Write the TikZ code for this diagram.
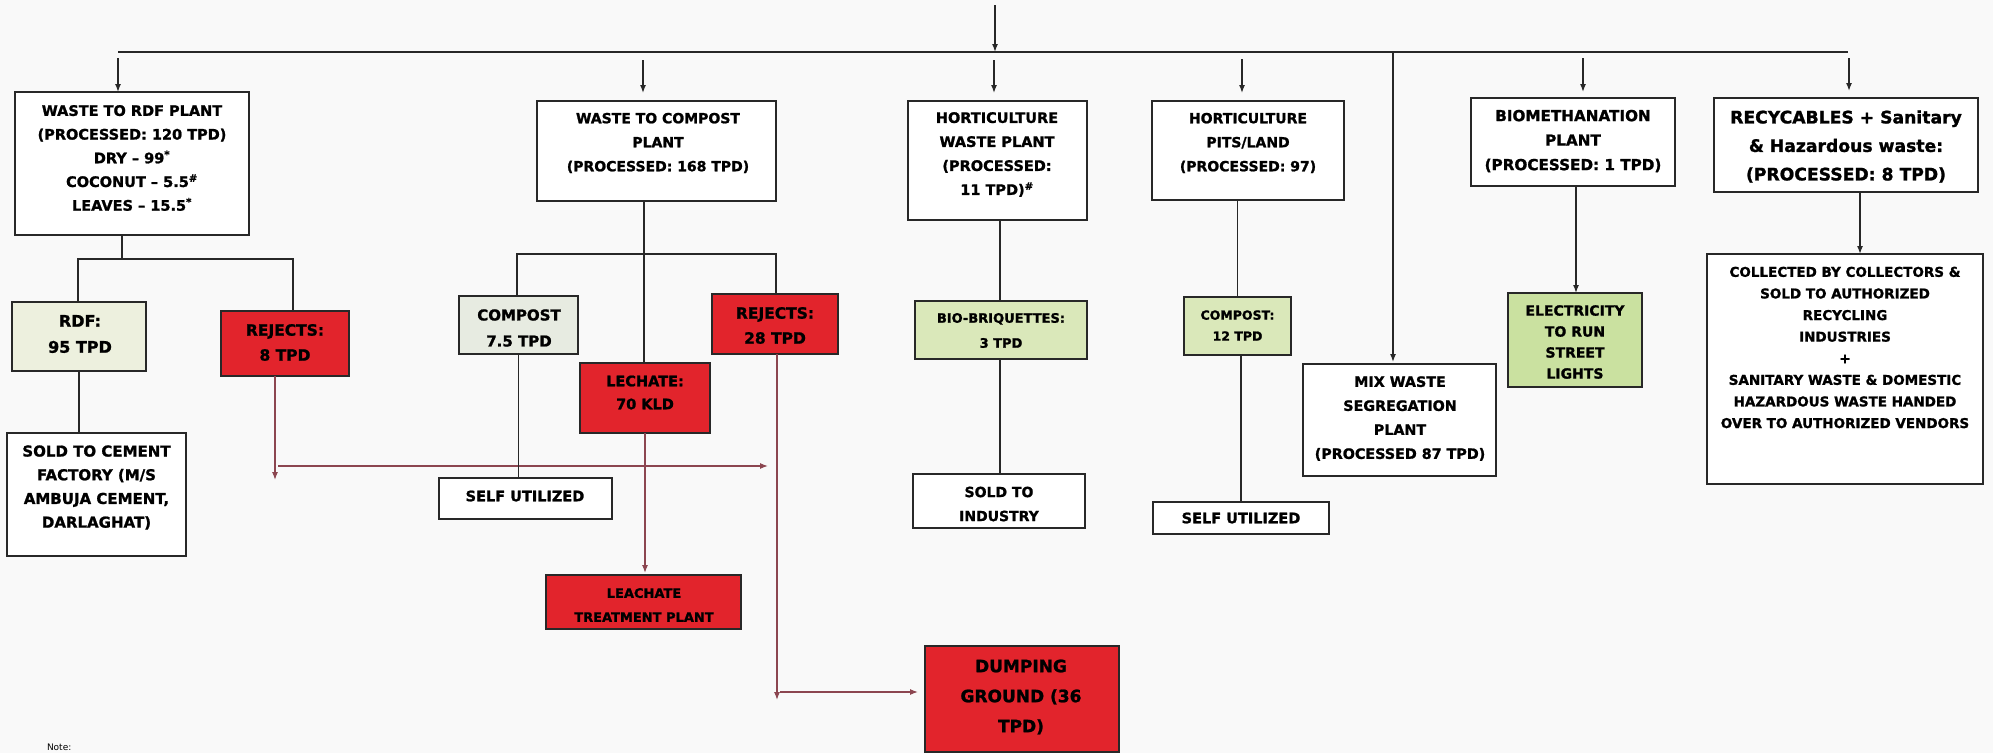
\documentclass[tikz,border=0pt]{standalone}
\usepackage{fontspec}
\setmainfont{DejaVu Sans}[BoldFeatures={FakeBold=1.3}]
\usetikzlibrary{arrows.meta,calc}
\definecolor{bgc}{RGB}{249,249,249}
\definecolor{redbox}{RGB}{226,36,44}
\definecolor{palec}{RGB}{237,240,222}
\definecolor{greyc}{RGB}{231,235,225}
\definecolor{lgreen}{RGB}{218,232,186}
\definecolor{mgreen}{RGB}{202,225,160}
\definecolor{lnc}{RGB}{40,40,40}
\definecolor{rlc}{RGB}{140,70,80}
\newcommand\myfs[2]{\fontsize{#1}{#2}\selectfont\bfseries}
\begin{document}
\begin{tikzpicture}[x=1pt,y=-1pt,
  box/.style={draw=lnc,line width=1.4pt,inner sep=0pt,outer sep=0pt,fill=white},
  redb/.style={box,fill=redbox},
  paleb/.style={box,fill=palec},
  greyb/.style={box,fill=greyc},
  greenb/.style={box,fill=lgreen},
  green2b/.style={box,fill=mgreen},
  txt/.style={inner sep=0pt,outer sep=0pt,align=center,text=black},
  ln/.style={draw=lnc,line width=1.4pt},
  rln/.style={draw=rlc,line width=1.2pt},
  arr/.style={ln,-{Latex[length=8pt,width=6pt]}},
  rarr/.style={rln,-{Latex[length=8pt,width=6pt]}}]
\fill[bgc] (0,0) rectangle (1993,753);
\useasboundingbox (0,0) rectangle (1993,753);

% ---------- boxes ----------
\node[box,minimum width=234pt,minimum height=143pt] (b1) at (132,163.5) {};
\node[txt,font=\myfs{14.5}{23.7}] (b1t) at (132,158) {WASTE TO RDF PLANT\\(PROCESSED: 120 TPD)\\DRY – 99\textsuperscript{*}\\COCONUT – 5.5\textsuperscript{\#}\\LEAVES – 15.5\textsuperscript{*}};

\node[paleb,minimum width=134pt,minimum height=69pt] (rdf) at (79,336.5) {};
\node[txt,font=\myfs{16}{26}] (rdft) at (80,334) {RDF:\\95 TPD};

\node[redb,minimum width=128pt,minimum height=65pt] (rej1) at (285,343.5) {};
\node[txt,font=\myfs{15.5}{25}] (rej1t) at (285,342.5) {REJECTS:\\8 TPD};

\node[box,minimum width=179pt,minimum height=123pt] (cement) at (96.5,494.5) {};
\node[txt,font=\myfs{15}{23.7}] (cementt) at (96.5,487.5) {SOLD TO CEMENT\\FACTORY (M/S\\AMBUJA CEMENT,\\DARLAGHAT)};

\node[box,minimum width=239pt,minimum height=100pt] (b2) at (656.5,151) {};
\node[txt,font=\myfs{14}{24}] (b2t) at (658,143) {WASTE TO COMPOST\\PLANT\\(PROCESSED: 168 TPD)};

\node[greyb,minimum width=119pt,minimum height=58pt] (comp1) at (518.5,325) {};
\node[txt,font=\myfs{15}{26}] (comp1t) at (519,328) {COMPOST\\7.5 TPD};

\node[redb,minimum width=130pt,minimum height=70pt] (lech) at (645,398) {};
\node[txt,font=\myfs{14.5}{23}] (lecht) at (645,392.5) {LECHATE:\\70 KLD};

\node[redb,minimum width=126pt,minimum height=60pt] (rej2) at (775,324) {};
\node[txt,font=\myfs{15.5}{25}] (rej2t) at (775,325.5) {REJECTS:\\28 TPD};

\node[box,minimum width=173pt,minimum height=41pt] (self1) at (525.5,498.5) {};
\node[txt,font=\myfs{14.5}{18}] (self1t) at (525,496) {SELF UTILIZED};

\node[redb,minimum width=195pt,minimum height=54pt] (ltp) at (643.5,602) {};
\node[txt,font=\myfs{13}{24}] (ltpt) at (644,605) {LEACHATE\\TREATMENT PLANT};

\node[redb,minimum width=194pt,minimum height=106pt] (dump) at (1022,699) {};
\node[txt,font=\myfs{17}{30}] (dumpt) at (1021,697) {DUMPING\\GROUND (36\\TPD)};

\node[box,minimum width=179pt,minimum height=119pt] (b3) at (997.5,160.5) {};
\node[txt,font=\myfs{14.5}{24}] (b3t) at (997,154.5) {HORTICULTURE\\WASTE PLANT\\(PROCESSED:\\11 TPD)\textsuperscript{\#}};

\node[greenb,minimum width=172pt,minimum height=58pt] (bio) at (1001,330) {};
\node[txt,font=\myfs{13}{25}] (biot) at (1001,330.5) {BIO-BRIQUETTES:\\3 TPD};

\node[box,minimum width=172pt,minimum height=54pt] (sold2) at (999,501) {};
\node[txt,font=\myfs{14}{24}] (sold2t) at (999,504) {SOLD TO\\INDUSTRY};

\node[box,minimum width=192pt,minimum height=99pt] (b4) at (1248,150.5) {};
\node[txt,font=\myfs{14}{24}] (b4t) at (1248,143) {HORTICULTURE\\PITS/LAND\\(PROCESSED: 97)};

\node[greenb,minimum width=107pt,minimum height=58pt] (comp2) at (1237.5,326) {};
\node[txt,font=\myfs{12.5}{21}] (comp2t) at (1237.5,325.5) {COMPOST:\\12 TPD};

\node[box,minimum width=176pt,minimum height=32pt] (self2) at (1241,518) {};
\node[txt,font=\myfs{14.5}{18}] (self2t) at (1241,518) {SELF UTILIZED};

\node[box,minimum width=193pt,minimum height=112pt] (mix) at (1399.5,420) {};
\node[txt,font=\myfs{14.3}{24}] (mixt) at (1400,418.5) {MIX WASTE\\SEGREGATION\\PLANT\\(PROCESSED 87 TPD)};

\node[box,minimum width=204pt,minimum height=88pt] (b5) at (1573,142) {};
\node[txt,font=\myfs{15.2}{24.5}] (b5t) at (1573,141) {BIOMETHANATION\\PLANT\\(PROCESSED: 1 TPD)};

\node[green2b,minimum width=134pt,minimum height=94pt] (elec) at (1575,340) {};
\node[txt,font=\myfs{14}{21}] (elect) at (1575,342) {ELECTRICITY\\TO RUN\\STREET\\LIGHTS};

\node[box,minimum width=264pt,minimum height=94pt] (b6) at (1846,145) {};
\node[txt,font=\myfs{17.2}{28.5}] (b6t) at (1846,146.5) {RECYCABLES + Sanitary\\\& Hazardous waste:\\(PROCESSED: 8 TPD)};

\node[box,minimum width=276pt,minimum height=230pt] (coll) at (1845,369) {};
\node[txt,font=\myfs{13.5}{21.6}] (collt) at (1845,347.5) {COLLECTED BY COLLECTORS \&\\SOLD TO AUTHORIZED\\RECYCLING\\INDUSTRIES\\+\\SANITARY WASTE \& DOMESTIC\\HAZARDOUS WASTE HANDED\\OVER TO AUTHORIZED VENDORS};

\node[txt,anchor=south west,font=\fontsize{9}{10}\selectfont] (note) at (47,751) {Note:};

% ---------- top bus ----------
\coordinate (topin) at (995,5);
\coordinate (busL) at (118,52);
\coordinate (busR) at (1848,52);
\draw[arr] (topin) -- (topin |- busL);
\draw[ln] (busL) -- (busR);

\coordinate (a1) at (118,58);
\coordinate (a2) at (643,60);
\coordinate (a3) at (994,60);
\coordinate (a4) at (1242,59);
\coordinate (a5) at (1583,58);
\coordinate (a6) at (1849,58);
\draw[arr] (a1) -- (a1 |- b1.north);
\draw[arr,shorten >=8pt] (a2) -- (a2 |- b2.north);
\draw[arr,shorten >=8pt] (a3) -- (a3 |- b3.north);
\draw[arr,shorten >=8pt] (a4) -- (a4 |- b4.north);
\draw[arr,shorten >=6pt] (a5) -- (a5 |- b5.north);
\draw[arr,shorten >=7pt] (a6) -- (a6 |- b6.north);

\coordinate (mx) at (1393,52);
\draw[arr,shorten >=2pt] (mx) -- (mx |- mix.north);

% ---------- RDF branch ----------
\coordinate (j1) at (122,259);
\coordinate (j1L) at (78,259);
\coordinate (j1R) at (293,259);
\draw[ln] (j1 |- b1.south) -- (j1);
\draw[ln] (j1L |- rdf.north) -- (j1L) -- (j1R) -- (j1R |- rej1.north);
\draw[ln] (rdf.south) -- (rdf.south |- cement.north);
\coordinate (r1end) at (275,480);
\draw[rarr] (r1end |- rej1.south) -- (r1end);
\coordinate (h1s) at (278,466);
\coordinate (h1e) at (768,466);
\draw[rarr] (h1s) -- (h1e);

% ---------- compost branch ----------
\coordinate (j2) at (644,254);
\coordinate (j2L) at (517,254);
\coordinate (j2R) at (776,254);
\draw[ln] (j2 |- b2.south) -- (j2 |- lech.north);
\draw[ln] (j2L |- comp1.north) -- (j2L) -- (j2R) -- (j2R |- rej2.north);
\draw[ln] (comp1.south) -- (comp1.south |- self1.north);
\draw[rarr,shorten >=2pt] (lech.south) -- (lech.south |- ltp.north);
\coordinate (r2end) at (777,700);
\draw[rarr] (r2end |- rej2.south) -- (r2end);
\coordinate (h2s) at (780,692);
\draw[rarr,shorten >=7pt] (h2s) -- (h2s -| dump.west);

% ---------- horticulture ----------
\coordinate (x3) at (1000,0);
\draw[ln] (b3.south -| x3) -- (bio.north -| x3);
\draw[ln] (bio.south -| x3) -- (sold2.north -| x3);
\draw[ln] (b4.south -| comp2.north) -- (comp2.north);
\draw[ln] (comp2.south -| self2.north) -- (self2.north);

% ---------- biomethanation / recyclables ----------
\coordinate (x5) at (1576,0);
\draw[arr] (b5.south -| x5) -- (elec.north -| x5);
\coordinate (x6) at (1860,0);
\draw[arr] (b6.south -| x6) -- (coll.north -| x6);
\end{tikzpicture}
\end{document}
